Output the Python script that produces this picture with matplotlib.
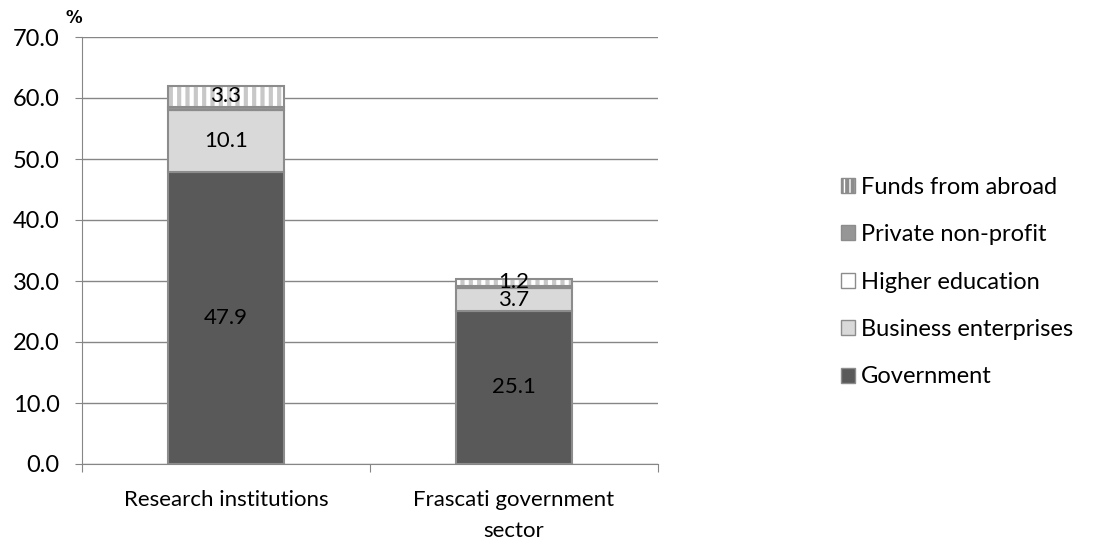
import matplotlib.pyplot as plt
import numpy as np
from matplotlib.patches import Patch

plt.rcParams['font.family'] = ['Lato', 'DejaVu Sans']
plt.rcParams['hatch.linewidth'] = 3.0

categories = ["Research institutions", "Frascati government\nsector"]
series = ["Government", "Business enterprises", "Higher education",
          "Private non-profit", "Funds from abroad"]
government = [47.9, 25.1]
business = [10.1, 3.7]
higher_ed = [0.1, 0.1]
private_np = [0.5, 0.3]
abroad = [3.3, 1.2]
show_label = [True, True, False, False, True]

values = [government, business, higher_ed, private_np, abroad]
colors = ["#595959", "#d9d9d9", "#ffffff", "#969696", "#ffffff"]
hatches = [None, None, None, None, "||"]

fig = plt.figure(figsize=(10.93, 5.44), dpi=100)
ax = fig.add_axes([82 / 1093, 80 / 544, 576 / 1093, 427 / 544])

x = np.arange(len(categories))
width = 0.4
bottom = np.zeros(len(categories))
for name, vals, col, hat, lab in zip(series, values, colors, hatches, show_label):
    vals = np.array(vals)
    if hat:
        ax.bar(x, vals, width, bottom=bottom, color="white", edgecolor="#c8c8c8",
               hatch=hat, linewidth=0, zorder=3)
        ax.bar(x, vals, width, bottom=bottom, fill=False, edgecolor="#8c8c8c",
               linewidth=1.5, zorder=4)
    else:
        ax.bar(x, vals, width, bottom=bottom, color=col, edgecolor="#8c8c8c",
               linewidth=1.5, zorder=3)
    if lab:
        for xi, b, v in zip(x, bottom, vals):
            ax.text(xi, b + v / 2, f"{v:.1f}", ha="center", va="center",
                    fontsize=16, zorder=5)
    bottom += vals

proxies = []
for col, hat in zip(colors, hatches):
    if hat:
        proxies.append(Patch(facecolor="white", edgecolor="#8c8c8c", hatch="|||"))
    else:
        proxies.append(Patch(facecolor=col, edgecolor="#8c8c8c"))
ax.legend(proxies[::-1], series[::-1], loc="center left", bbox_to_anchor=(1.28, 0.426),
          frameon=False, fontsize=17, handlelength=0.6, handleheight=0.6,
          handletextpad=0.25, labelspacing=1.12)

ax.set_ylim(0, 70)
ax.set_xlim(-0.5, 1.5)
ax.set_yticks(np.arange(0, 71, 10))
ax.set_yticklabels([f"{v:.1f}" for v in np.arange(0, 71, 10)], fontsize=17)
ax.yaxis.grid(True, color="#868686", linewidth=1, zorder=0)
ax.set_axisbelow(True)

ax.set_xticks([-0.5, 0.5, 1.5], minor=False)
ax.set_xticklabels([])
ax.set_xticks(x, minor=True)
ax.set_xticklabels(categories, minor=True, fontsize=16, linespacing=1.65)
ax.tick_params(axis="x", which="minor", length=0, pad=19)
ax.tick_params(axis="x", which="major", length=6, color="#868686")
ax.tick_params(axis="y", length=5, color="#868686", pad=11)

for s in ["top", "right"]:
    ax.spines[s].set_visible(False)
for s in ["left", "bottom"]:
    ax.spines[s].set_color("#868686")

ax.text(0.0, 1.023, "%", transform=ax.transAxes, fontsize=12, fontweight="bold",
        family="DejaVu Sans", ha="right", va="bottom")

fig.savefig("out.png", dpi=100)
